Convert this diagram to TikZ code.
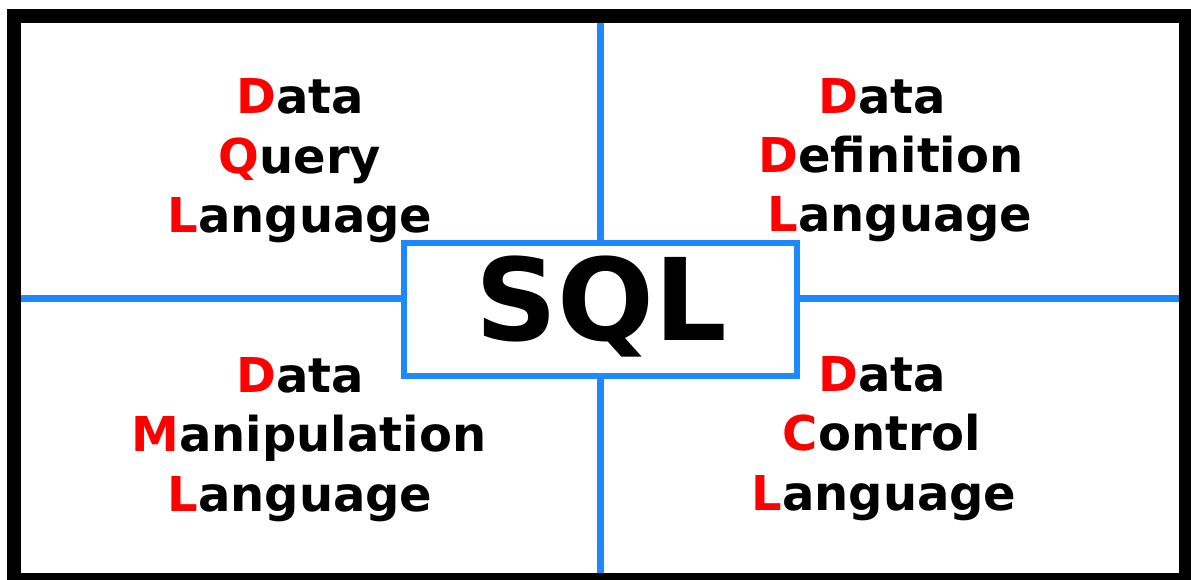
\documentclass[tikz,border=0pt]{standalone}
\usepackage{fontspec}
\setmainfont{DejaVu Sans}
\usetikzlibrary{positioning}
\definecolor{sqlblue}{RGB}{30,136,255}
\newcommand{\first}[1]{\textcolor{red}{#1}}

\begin{document}
\begin{tikzpicture}[x=1pt,y=-1pt]
\tikzstyle{frame}=[draw=black,line width=14pt]
\tikzstyle{split}=[draw=sqlblue,line width=7pt]
\tikzstyle{sqlbox}=[draw=sqlblue,line width=6pt,fill=white,minimum width=393pt,minimum height=133pt,inner sep=0pt]
\tikzstyle{lang}=[align=center,anchor=base,inner sep=0pt,font=\fontsize{48}{59.5}\selectfont\bfseries]
\useasboundingbox (0,0) rectangle (1191,580);
 %frame
 \draw[frame] (14,16) rectangle (1186,580);
 \coordinate (top) at (600,23);
 \coordinate (bottom) at (600,573);
 \coordinate (left) at (21,298);
 \coordinate (right) at (1179,298);
 %paths
 \draw[split] (top) -- (bottom);
 \draw[split] (left) -- (right);
 \node[sqlbox] (sql) at (600.5,309.5) {};
 \node[anchor=base,inner sep=0pt,font=\fontsize{114}{114}\selectfont\bfseries] (sqltext) at (601,340) {SQL};
 %languages
 \node[lang] (dql) at (300,233) {\first{D}ata\\\first{Q}uery\\\first{L}anguage};
 \node[lang] (ddl) at (891,232) {\first{D}ata\hspace*{18pt}\\\first{D}efinition\\\hspace*{18pt}\first{L}anguage};
 \node[lang] (dml) at (300,511) {\first{D}ata\\\hspace*{18pt}\first{M}anipulation\\\first{L}anguage};
 \node[lang] (dcl) at (882,510) {\first{D}ata\\\first{C}ontrol\hspace*{4pt}\\\hspace*{4pt}\first{L}anguage};
\end{tikzpicture}
\end{document}
